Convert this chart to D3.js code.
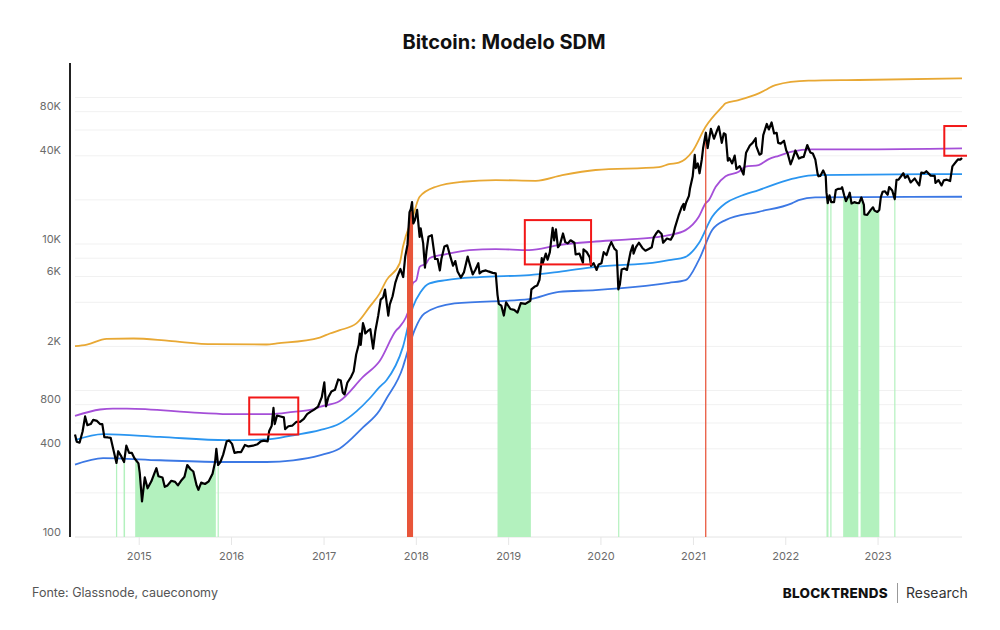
<!DOCTYPE html>
<html>
<head>
<meta charset="utf-8">
<script src="https://cdn.jsdelivr.net/npm/d3@7"></script>
<style>
  body { margin: 0; background: #fff; }
  svg { display: block; font-family: Inter, "Noto Sans", sans-serif; }
</style>
</head>
<body>
<div id="chart"></div>
<script>
// Preço do BTC (USD)
const price = [
  ["2014-04-24",500],["2014-05-01",447],["2014-05-12",440],["2014-05-24",525],["2014-06-03",665],["2014-06-12",580],["2014-06-25",590],["2014-07-05",630],["2014-07-20",620],["2014-08-01",590],["2014-08-10",590],["2014-08-18",480],["2014-09-01",478],["2014-09-12",475],["2014-09-22",400],["2014-10-05",320],["2014-10-12",385],["2014-10-24",355],["2014-11-04",325],["2014-11-13",420],["2014-11-24",375],["2014-12-05",375],["2014-12-15",345],["2014-12-31",318],
  ["2015-01-05",275],["2015-01-14",175],["2015-01-25",255],["2015-02-05",215],["2015-02-20",240],["2015-03-05",275],["2015-03-12",295],["2015-03-20",260],["2015-04-05",255],["2015-04-14",220],["2015-04-25",225],["2015-05-10",242],["2015-05-25",238],["2015-06-05",225],["2015-06-20",245],["2015-07-01",258],["2015-07-12",310],["2015-07-25",290],["2015-08-05",280],["2015-08-18",225],["2015-08-25",210],["2015-09-05",235],["2015-09-20",230],["2015-10-05",240],["2015-10-20",270],["2015-10-30",325],["2015-11-04",400],["2015-11-11",310],["2015-11-20",325],["2015-12-01",365],["2015-12-15",450],["2015-12-25",455],
  ["2016-01-05",432],["2016-01-15",375],["2016-01-28",380],["2016-02-10",380],["2016-02-25",425],["2016-03-10",415],["2016-03-28",420],["2016-04-15",430],["2016-04-28",450],["2016-05-10",455],["2016-05-25",450],["2016-05-31",530],["2016-06-10",575],["2016-06-17",760],["2016-06-22",590],["2016-07-01",675],["2016-07-15",665],["2016-07-28",655],["2016-08-02",545],["2016-08-15",570],["2016-08-30",575],["2016-09-15",610],["2016-09-30",610],["2016-10-15",640],["2016-10-28",690],["2016-11-10",715],["2016-11-25",740],["2016-12-10",775],["2016-12-25",900],
  ["2017-01-04",1135],["2017-01-11",780],["2017-01-20",900],["2017-02-01",985],["2017-02-15",1010],["2017-02-28",1190],["2017-03-10",1170],["2017-03-18",970],["2017-03-25",940],["2017-04-05",1130],["2017-04-20",1240],["2017-04-30",1350],["2017-05-10",1760],["2017-05-20",2050],["2017-05-25",2450],["2017-05-28",2050],["2017-06-06",2880],["2017-06-12",2660],["2017-06-15",2450],["2017-06-25",2550],["2017-07-05",2620],["2017-07-16",1930],["2017-07-25",2560],["2017-08-05",3230],["2017-08-15",4170],["2017-08-25",4330],["2017-09-01",4890],["2017-09-14",3240],["2017-09-20",3870],["2017-10-01",4400],["2017-10-12",5450],["2017-10-20",6000],["2017-11-01",6750],["2017-11-12",5950],["2017-11-20",8200],["2017-11-29",9900],["2017-12-07",16500],["2017-12-12",17300],["2017-12-17",19300],["2017-12-22",13800],["2017-12-28",14500],
  ["2018-01-06",17100],["2018-01-16",11200],["2018-01-20",12800],["2018-01-30",10100],["2018-02-06",6900],["2018-02-12",8900],["2018-02-20",11200],["2018-03-05",11500],["2018-03-18",7900],["2018-03-28",7900],["2018-04-06",6600],["2018-04-12",7900],["2018-04-24",9600],["2018-05-05",9800],["2018-05-15",8500],["2018-05-28",7100],["2018-06-06",7650],["2018-06-15",6500],["2018-06-28",5900],["2018-07-10",6400],["2018-07-25",8200],["2018-08-05",7000],["2018-08-14",6200],["2018-08-25",6700],["2018-09-05",7400],["2018-09-10",6300],["2018-09-20",6500],["2018-10-05",6600],["2018-10-15",6500],["2018-11-01",6350],["2018-11-13",6300],["2018-11-20",4500],["2018-11-25",3900],["2018-12-05",3800],["2018-12-15",3250],["2018-12-24",4000],["2018-12-30",3850],
  ["2019-01-10",3600],["2019-01-25",3550],["2019-02-07",3400],["2019-02-20",3950],["2019-03-10",3900],["2019-03-30",4100],["2019-04-03",4900],["2019-04-15",5100],["2019-04-26",5200],["2019-05-05",5700],["2019-05-14",8000],["2019-05-17",7300],["2019-05-30",8600],["2019-06-06",7800],["2019-06-15",8800],["2019-06-26",12900],["2019-07-02",10600],["2019-07-09",12600],["2019-07-17",9500],["2019-07-25",9900],["2019-08-06",11800],["2019-08-15",10300],["2019-08-25",10100],["2019-09-05",10600],["2019-09-20",10200],["2019-09-25",8500],["2019-10-10",8600],["2019-10-24",7450],["2019-10-26",9200],["2019-11-08",8800],["2019-11-20",8100],["2019-11-25",7100],["2019-12-05",7400],["2019-12-17",6650],["2019-12-25",7250],
  ["2020-01-05",7400],["2020-01-14",8800],["2020-01-25",8400],["2020-02-05",9600],["2020-02-13",10300],["2020-02-25",9300],["2020-03-05",9000],["2020-03-12",4900],["2020-03-18",5300],["2020-03-25",6700],["2020-04-05",6800],["2020-04-15",6650],["2020-04-29",8800],["2020-05-08",9800],["2020-05-11",8600],["2020-05-20",9500],["2020-06-01",10200],["2020-06-15",9400],["2020-06-27",9000],["2020-07-10",9250],["2020-07-22",9500],["2020-07-30",11100],["2020-08-10",11900],["2020-08-17",12300],["2020-08-30",11700],["2020-09-05",10200],["2020-09-20",10900],["2020-10-05",10700],["2020-10-15",11500],["2020-10-22",13000],["2020-11-05",15600],["2020-11-17",17800],["2020-11-25",18800],["2020-11-27",17100],["2020-12-05",19200],["2020-12-16",21300],["2020-12-20",23800],["2020-12-31",29000],
  ["2021-01-08",40600],["2021-01-12",33000],["2021-01-20",35500],["2021-01-27",30400],["2021-02-05",37900],["2021-02-10",45000],["2021-02-21",57500],["2021-02-28",45200],["2021-03-13",61200],["2021-03-25",52300],["2021-04-05",58800],["2021-04-13",63500],["2021-04-25",49000],["2021-05-03",57000],["2021-05-10",56000],["2021-05-19",37000],["2021-05-25",38500],["2021-06-05",35500],["2021-06-15",40100],["2021-06-22",32500],["2021-07-05",34000],["2021-07-20",29800],["2021-07-30",42000],["2021-08-14",47000],["2021-08-25",49000],["2021-09-06",52700],["2021-09-08",46800],["2021-09-21",40700],["2021-09-29",41500],["2021-10-06",55300],["2021-10-20",66000],["2021-10-28",60500],["2021-11-08",67500],["2021-11-18",56900],["2021-11-28",57300],["2021-12-04",49000],["2021-12-14",48400],["2021-12-27",50700],
  ["2022-01-05",43500],["2022-01-10",41800],["2022-01-22",35000],["2022-01-30",38000],["2022-02-10",43500],["2022-02-24",38300],["2022-03-05",39000],["2022-03-15",39300],["2022-03-29",47400],["2022-04-10",42200],["2022-04-20",41500],["2022-04-30",37700],["2022-05-09",30100],["2022-05-12",29000],["2022-05-20",29200],["2022-05-31",31800],["2022-06-10",29000],["2022-06-13",22500],["2022-06-18",19000],["2022-06-25",21500],["2022-07-02",19300],["2022-07-13",19300],["2022-07-20",23400],["2022-07-30",23800],["2022-08-10",23900],["2022-08-14",24400],["2022-08-22",21500],["2022-08-29",19600],["2022-09-10",21600],["2022-09-13",22400],["2022-09-20",18900],["2022-10-01",19300],["2022-10-10",19100],["2022-10-20",19000],["2022-10-29",20800],["2022-11-08",18500],["2022-11-10",15900],["2022-11-21",15800],["2022-12-05",17100],["2022-12-14",17800],["2022-12-20",16900],["2022-12-31",16550],
  ["2023-01-08",17100],["2023-01-14",20900],["2023-01-21",22700],["2023-01-30",22900],["2023-02-10",21700],["2023-02-16",24500],["2023-02-28",23200],["2023-03-10",20200],["2023-03-17",27400],["2023-03-25",27500],["2023-04-13",30400],["2023-04-20",28300],["2023-04-30",29300],["2023-05-12",26300],["2023-05-28",28000],["2023-06-10",25800],["2023-06-15",25100],["2023-06-23",30700],["2023-07-05",30500],["2023-07-13",31400],["2023-07-30",29300],["2023-08-15",29200],["2023-08-18",26100],["2023-08-30",27300],["2023-09-11",25100],["2023-09-20",27200],["2023-10-02",27500],["2023-10-15",26900],["2023-10-24",33900],["2023-11-09",36700],["2023-11-15",37800],["2023-11-25",37700],["2023-12-01",38700]
];

// Bandas do modelo SDM
const bandTop = [
  ["2014-04-24",2010],["2014-06-10",2060],["2014-08-27",2250],["2014-12-11",2265],["2015-05-01",2180],["2015-10-23",2070],["2016-05-21",2060],["2016-07-01",2095],["2016-12-17",2300],["2017-01-26",2450],["2017-03-06",2580],["2017-05-11",2870],["2017-07-02",3720],["2017-08-11",4600],["2017-09-07",5670],["2017-10-29",7370],["2017-11-11",9570],["2017-12-20",15340],["2018-01-16",21000],["2018-03-22",24600],["2018-07-05",26600],["2018-11-13",27300],["2019-04-20",27000],["2019-08-03",29500],["2019-12-13",32000],["2020-08-20",33500],["2020-09-28",35100],["2020-11-06",35900],["2020-12-29",42600],["2021-02-20",63200],["2021-04-27",86500],["2021-05-10",91300],["2021-07-01",96100],["2021-09-18",106800],["2021-10-15",112500],["2021-11-23",121700],["2022-04-03",130200],["2022-10-18",131700],["2023-12-01",135200]
];
const bandMid = [
  ["2014-04-24",671],["2014-08-01",742],["2014-09-21",753],["2014-11-15",753],["2015-08-31",703],["2016-01-08",689],["2016-06-03",689],["2016-09-03",714],["2016-11-19",742],["2016-12-17",773],["2017-03-06",849],["2017-06-06",1238],["2017-08-11",1590],["2017-10-16",2580],["2017-10-29",2720],["2017-12-07",3724],["2017-12-20",5380],["2018-01-03",5667],["2018-01-16",6990],["2018-02-11",7371],["2018-02-24",8000],["2018-05-01",8530],["2018-07-31",9085],["2018-11-13",9230],["2019-03-25",9085],["2019-07-21",9830],["2019-11-29",10350],["2020-04-23",10750],["2020-08-20",11200],["2020-09-28",11500],["2020-12-03",12440],["2021-01-24",15340],["2021-02-20",18940],["2021-03-05",19940],["2021-04-01",24590],["2021-05-10",29000],["2021-07-01",31130],["2021-07-28",33680],["2021-09-18",34590],["2021-10-28",38000],["2021-12-06",40000],["2022-01-27",42640],["2022-04-16",44280],["2022-10-18",44280],["2023-12-01",44980]
];
const bandLow = [
  ["2014-04-24",458],["2014-08-13",503],["2015-03-26",482],["2015-12-14",458],["2016-05-21",463],["2016-09-03",495],["2016-12-17",536],["2017-03-06",595],["2017-05-11",720],["2017-07-02",882],["2017-08-11",1058],["2017-09-07",1176],["2017-11-11",1985],["2017-12-20",3700],["2018-01-20",4700],["2018-02-24",5380],["2018-05-01",5667],["2018-09-09",5950],["2019-03-25",6132],["2019-07-21",6459],["2019-12-13",6988],["2020-08-20",7556],["2020-09-28",7762],["2020-12-03",8178],["2021-01-24",10100],["2021-03-18",15340],["2021-05-10",19000],["2021-07-01",21010],["2021-09-18",23350],["2022-01-27",27800],["2022-02-23",28500],["2022-04-29",29550],["2023-12-01",30020]
];
const bandFloor = [
  ["2014-04-24",312],["2014-08-13",346],["2015-03-26",334],["2015-12-14",325],["2016-05-21",325],["2016-09-03",334],["2016-12-17",361],["2017-03-06",402],["2017-06-06",560],["2017-08-11",734],["2017-09-07",882],["2017-11-11",1449],["2017-11-23",1696],["2017-12-27",2582],["2018-02-04",3357],["2018-06-03",3929],["2019-03-25",4203],["2019-07-21",4715],["2019-12-13",4843],["2020-03-14",4973],["2020-09-28",5433],["2020-12-03",5667],["2021-01-24",7762],["2021-03-18",12440],["2021-05-10",14560],["2021-09-18",16600],["2022-01-27",18940],["2022-02-23",19940],["2022-04-29",20820],["2023-12-01",21010]
];

// Períodos destacados
const greenPeriods = [
  ["2014-10-03","2014-10-08"],["2014-11-02","2014-11-08"],["2014-12-18","2015-11-02"],["2015-11-09","2015-11-13"],
  ["2018-11-20","2019-04-01"],["2020-03-11","2020-03-14"],
  ["2022-06-13","2022-06-21"],["2022-06-28","2022-07-03"],["2022-08-18","2022-10-17"],["2022-10-26","2023-01-08"],["2023-03-08","2023-03-12"]
];
const redPeriods = [["2017-11-27","2017-12-21"],["2021-02-18","2021-02-23"]];

// Caixas de destaque [início, fim, mín, máx]
const boxes = [
  ["2016-03-13","2016-09-23",501,896],
  ["2019-03-08","2019-11-25",7256,14560],
  ["2023-09-22","2024-02-01",40040,63870]
];

const gridValues = [100,200,400,600,800,1000,2000,4000,6000,8000,10000,20000,40000,60000,80000,100000];
const labelValues = [100,400,800,2000,6000,10000,40000,80000];
const labelText = ["100","400","800","2K","6K","10K","40K","80K"];

const width = 1000, height = 630;
const parse = d3.timeParse('%Y-%m-%d');
const toPts = arr => arr.map(d => ({date: parse(d[0]), value: d[1]}));

const svg = d3.select('#chart').append('svg')
  .attr('width', width)
  .attr('height', height);

svg.append('rect').attr('width', width).attr('height', height).attr('fill', '#fff');

const x = d3.scaleTime()
  .domain([parse('2014-04-24'), parse('2023-12-01')])
  .range([75, 962]);
const y = d3.scaleLog()
  .domain([100, 172000])
  .range([537, 63]);

// Título
svg.append('text')
  .attr('x', 504).attr('y', 49)
  .attr('text-anchor', 'middle')
  .attr('font-size', 20).attr('font-weight', 700)
  .attr('fill', '#111')
  .text('Bitcoin: Modelo SDM');

// Linhas de grade
svg.append('g').selectAll('line')
  .data(gridValues)
  .join('line')
  .attr('x1', 75).attr('x2', 962)
  .attr('y1', d => y(d)).attr('y2', d => y(d))
  .attr('stroke', d => d === 100 ? '#e4e4e4' : '#f1f1f1')
  .attr('stroke-width', 1);

// Rótulos do eixo Y
svg.append('g').selectAll('text')
  .data(labelValues)
  .join('text')
  .attr('x', 61)
  .attr('y', d => y(d) - 1.5)
  .attr('text-anchor', 'end')
  .attr('font-size', 11)
  .attr('fill', '#6b6b6b')
  .text((d, i) => labelText[i]);

// Eixo X
const xAxis = svg.append('g')
  .attr('transform', 'translate(0,537)')
  .call(d3.axisBottom(x)
    .ticks(d3.timeYear.every(1))
    .tickFormat(d3.timeFormat('%Y'))
    .tickSize(8)
    .tickPadding(7));
xAxis.select('.domain').remove();
xAxis.selectAll('line').attr('stroke', '#e6e6e6');
xAxis.selectAll('text')
  .attr('font-size', 11)
  .attr('fill', '#6b6b6b')
  .attr('font-family', 'Inter, "Noto Sans", sans-serif');

const pricePts = toPts(price);
const defs = svg.append('defs');

const area = d3.area()
  .x(d => x(d.date))
  .y0(537)
  .y1(d => y(d.value));

function periodArea(periods, id, color) {
  const clip = defs.append('clipPath').attr('id', id);
  clip.selectAll('rect')
    .data(periods)
    .join('rect')
    .attr('x', d => x(parse(d[0])))
    .attr('width', d => Math.max(1.2, x(parse(d[1])) - x(parse(d[0]))))
    .attr('y', 0)
    .attr('height', height);
  return svg.append('path')
    .datum(pricePts)
    .attr('d', area)
    .attr('fill', color)
    .attr('clip-path', `url(#${id})`);
}

periodArea(greenPeriods, 'greenClip', '#b3f1be');

// Bandas
const bandLine = d3.line()
  .x(d => x(d.date))
  .y(d => y(d.value))
  .curve(d3.curveMonotoneX);

const bands = [
  {data: bandTop, color: '#e8a834'},
  {data: bandMid, color: '#a54fd8'},
  {data: bandLow, color: '#2a95f0'},
  {data: bandFloor, color: '#3c78e4'}
];
bands.forEach(b => {
  svg.append('path')
    .datum(toPts(b.data))
    .attr('d', bandLine)
    .attr('fill', 'none')
    .attr('stroke', b.color)
    .attr('stroke-width', 1.8);
});

periodArea(redPeriods, 'redClip', '#e8553a');

// Preço
svg.append('path')
  .datum(pricePts)
  .attr('d', d3.line().x(d => x(d.date)).y(d => y(d.value)))
  .attr('fill', 'none')
  .attr('stroke', '#000')
  .attr('stroke-width', 2.2)
  .attr('stroke-linejoin', 'round');

// Caixas vermelhas
defs.append('clipPath').attr('id', 'boxClip')
  .append('rect').attr('x', 0).attr('y', 0).attr('width', 967).attr('height', height);
svg.append('g').attr('clip-path', 'url(#boxClip)')
  .selectAll('rect')
  .data(boxes)
  .join('rect')
  .attr('x', d => x(parse(d[0])))
  .attr('y', d => y(d[3]))
  .attr('width', d => x(parse(d[1])) - x(parse(d[0])))
  .attr('height', d => y(d[2]) - y(d[3]))
  .attr('fill', 'none')
  .attr('stroke', '#f21818')
  .attr('stroke-width', 2);

// Eixo Y (linha)
svg.append('line')
  .attr('x1', 70).attr('x2', 70)
  .attr('y1', 63).attr('y2', 537)
  .attr('stroke', '#222')
  .attr('stroke-width', 2);

// Rodapé
svg.append('text')
  .attr('x', 32).attr('y', 597)
  .attr('font-size', 12.5)
  .attr('fill', '#555')
  .text('Fonte: Glassnode, caueconomy');

svg.append('text')
  .attr('x', 888).attr('y', 598)
  .attr('text-anchor', 'end')
  .attr('font-size', 13.5)
  .attr('font-weight', 800)
  .attr('letter-spacing', 0.3)
  .attr('fill', '#111')
  .text('BLOCKTRENDS');

svg.append('line')
  .attr('x1', 897.5).attr('x2', 897.5)
  .attr('y1', 583).attr('y2', 603)
  .attr('stroke', '#999')
  .attr('stroke-width', 1);

svg.append('text')
  .attr('x', 906).attr('y', 598)
  .attr('font-size', 14)
  .attr('fill', '#333')
  .text('Research');
</script>
</body>
</html>
